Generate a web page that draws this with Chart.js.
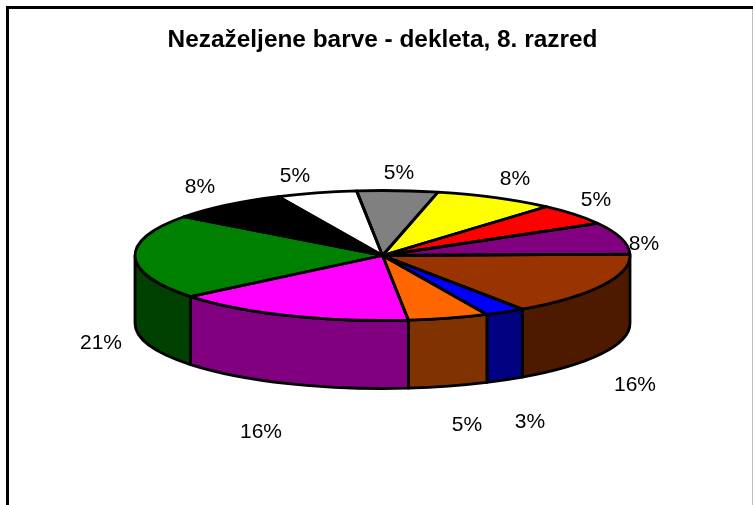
<!DOCTYPE html>
<html>
<head>
<meta charset="utf-8">
<script src="https://cdn.jsdelivr.net/npm/chart.js@4"></script>
<style>
  html, body { margin: 0; background: #fff; overflow: hidden; }
  canvas { display: block; }
</style>
</head>
<body>
<canvas id="chart" width="753" height="505"></canvas>
<script>
const categories = ['siva', 'rumena', 'rdeča', 'vijolična', 'rjava', 'modra', 'oranžna', 'roza', 'zelena', 'črna', 'bela'];
// answers out of 38, which gives the rounded percentages on the picture
const counts = [2, 3, 2, 3, 6, 1, 2, 6, 8, 3, 2];
const topColors = ['#808080', '#ffff00', '#ff0000', '#800080', '#993300', '#0000ff', '#ff6600', '#ff00ff', '#008000', '#000000', '#ffffff'];
const sideColors = ['#404040', '#808000', '#800000', '#400040', '#4d1a00', '#000080', '#803300', '#800080', '#004000', '#000000', '#808080'];
// label centres, in canvas pixels
const labelX = [399, 515, 596, 644, 635, 530, 467, 261, 101, 200, 295];
const labelY = [173, 179, 200, 244, 385, 422, 425, 432, 343, 187, 176];

const cx = 382.5, cy = 255.5, rx = 247.5, ry = 65, depth = 68;
const total = counts.reduce((a, b) => a + b, 0);

const pie3d = {
  id: 'pie3d',
  beforeDraw(chart) {
    const c = chart.ctx;
    c.save();
    c.fillStyle = '#000';
    c.fillRect(6, 6, 747, 3);
    c.fillRect(6, 6, 3, 499);
    c.fillStyle = '#c0c0c0';
    c.fillRect(752, 9, 1, 496);
    c.restore();
  },
  // side wall, only the part of each slice that faces the viewer
  beforeDatasetsDraw(chart) {
    const c = chart.ctx;
    c.save();
    c.lineWidth = 2.8;
    c.strokeStyle = '#000';
    c.lineJoin = 'round';
    chart.getDatasetMeta(0).data.forEach((arc, i) => {
      const a0 = normStart(arc.startAngle), a1 = a0 + (arc.endAngle - arc.startAngle);
      const from = Math.max(a0, 0), to = Math.min(a1, Math.PI);
      if (to <= from) return;
      c.beginPath();
      c.ellipse(cx, cy, rx, ry, 0, from, to);
      c.ellipse(cx, cy + depth, rx, ry, 0, to, from, true);
      c.closePath();
      c.fillStyle = sideColors[i];
      c.fill();
      c.stroke();
    });
    c.restore();
  },
  // squash the round pie of the library into the top ellipse
  beforeDatasetDraw(chart) {
    const c = chart.ctx;
    const arc = chart.getDatasetMeta(0).data[0];
    c.save();
    c.translate(cx, cy);
    c.scale(rx / arc.outerRadius, ry / arc.outerRadius);
    c.translate(-arc.x, -arc.y);
  },
  afterDatasetDraw(chart) {
    chart.ctx.restore();
  },
  afterDatasetsDraw(chart) {
    const c = chart.ctx;
    c.save();
    c.lineWidth = 2.8;
    c.strokeStyle = '#000';
    c.lineJoin = 'round';
    chart.getDatasetMeta(0).data.forEach(arc => {
      c.beginPath();
      c.moveTo(cx, cy);
      c.ellipse(cx, cy, rx, ry, 0, arc.startAngle, arc.endAngle);
      c.closePath();
      c.stroke();
    });
    c.font = '21px "Liberation Sans"';
    c.fillStyle = '#000';
    c.textAlign = 'center';
    c.textBaseline = 'middle';
    counts.forEach((n, i) => {
      c.fillText(Math.round(n / total * 100) + '%', labelX[i], labelY[i]);
    });
    c.restore();
  }
};

function normStart(a) {
  // keep the angle in -PI..PI so the front half test works
  while (a > Math.PI) a -= 2 * Math.PI;
  while (a < -Math.PI) a += 2 * Math.PI;
  return a;
}

new Chart(document.getElementById('chart'), {
  type: 'pie',
  data: {
    labels: categories,
    datasets: [{ data: counts, backgroundColor: topColors, borderWidth: 0 }]
  },
  options: {
    responsive: false,
    animation: false,
    rotation: -6,
    layout: { padding: { left: 12 } },
    plugins: {
      legend: { display: false },
      tooltip: { enabled: false },
      title: {
        display: true,
        text: 'Nezaželjene barve - dekleta, 8. razred',
        color: '#000',
        font: { family: '"Liberation Sans"', size: 24.4, weight: 'bold' },
        padding: { top: 26, bottom: 10 }
      }
    }
  },
  plugins: [pie3d]
});
</script>
</body>
</html>
